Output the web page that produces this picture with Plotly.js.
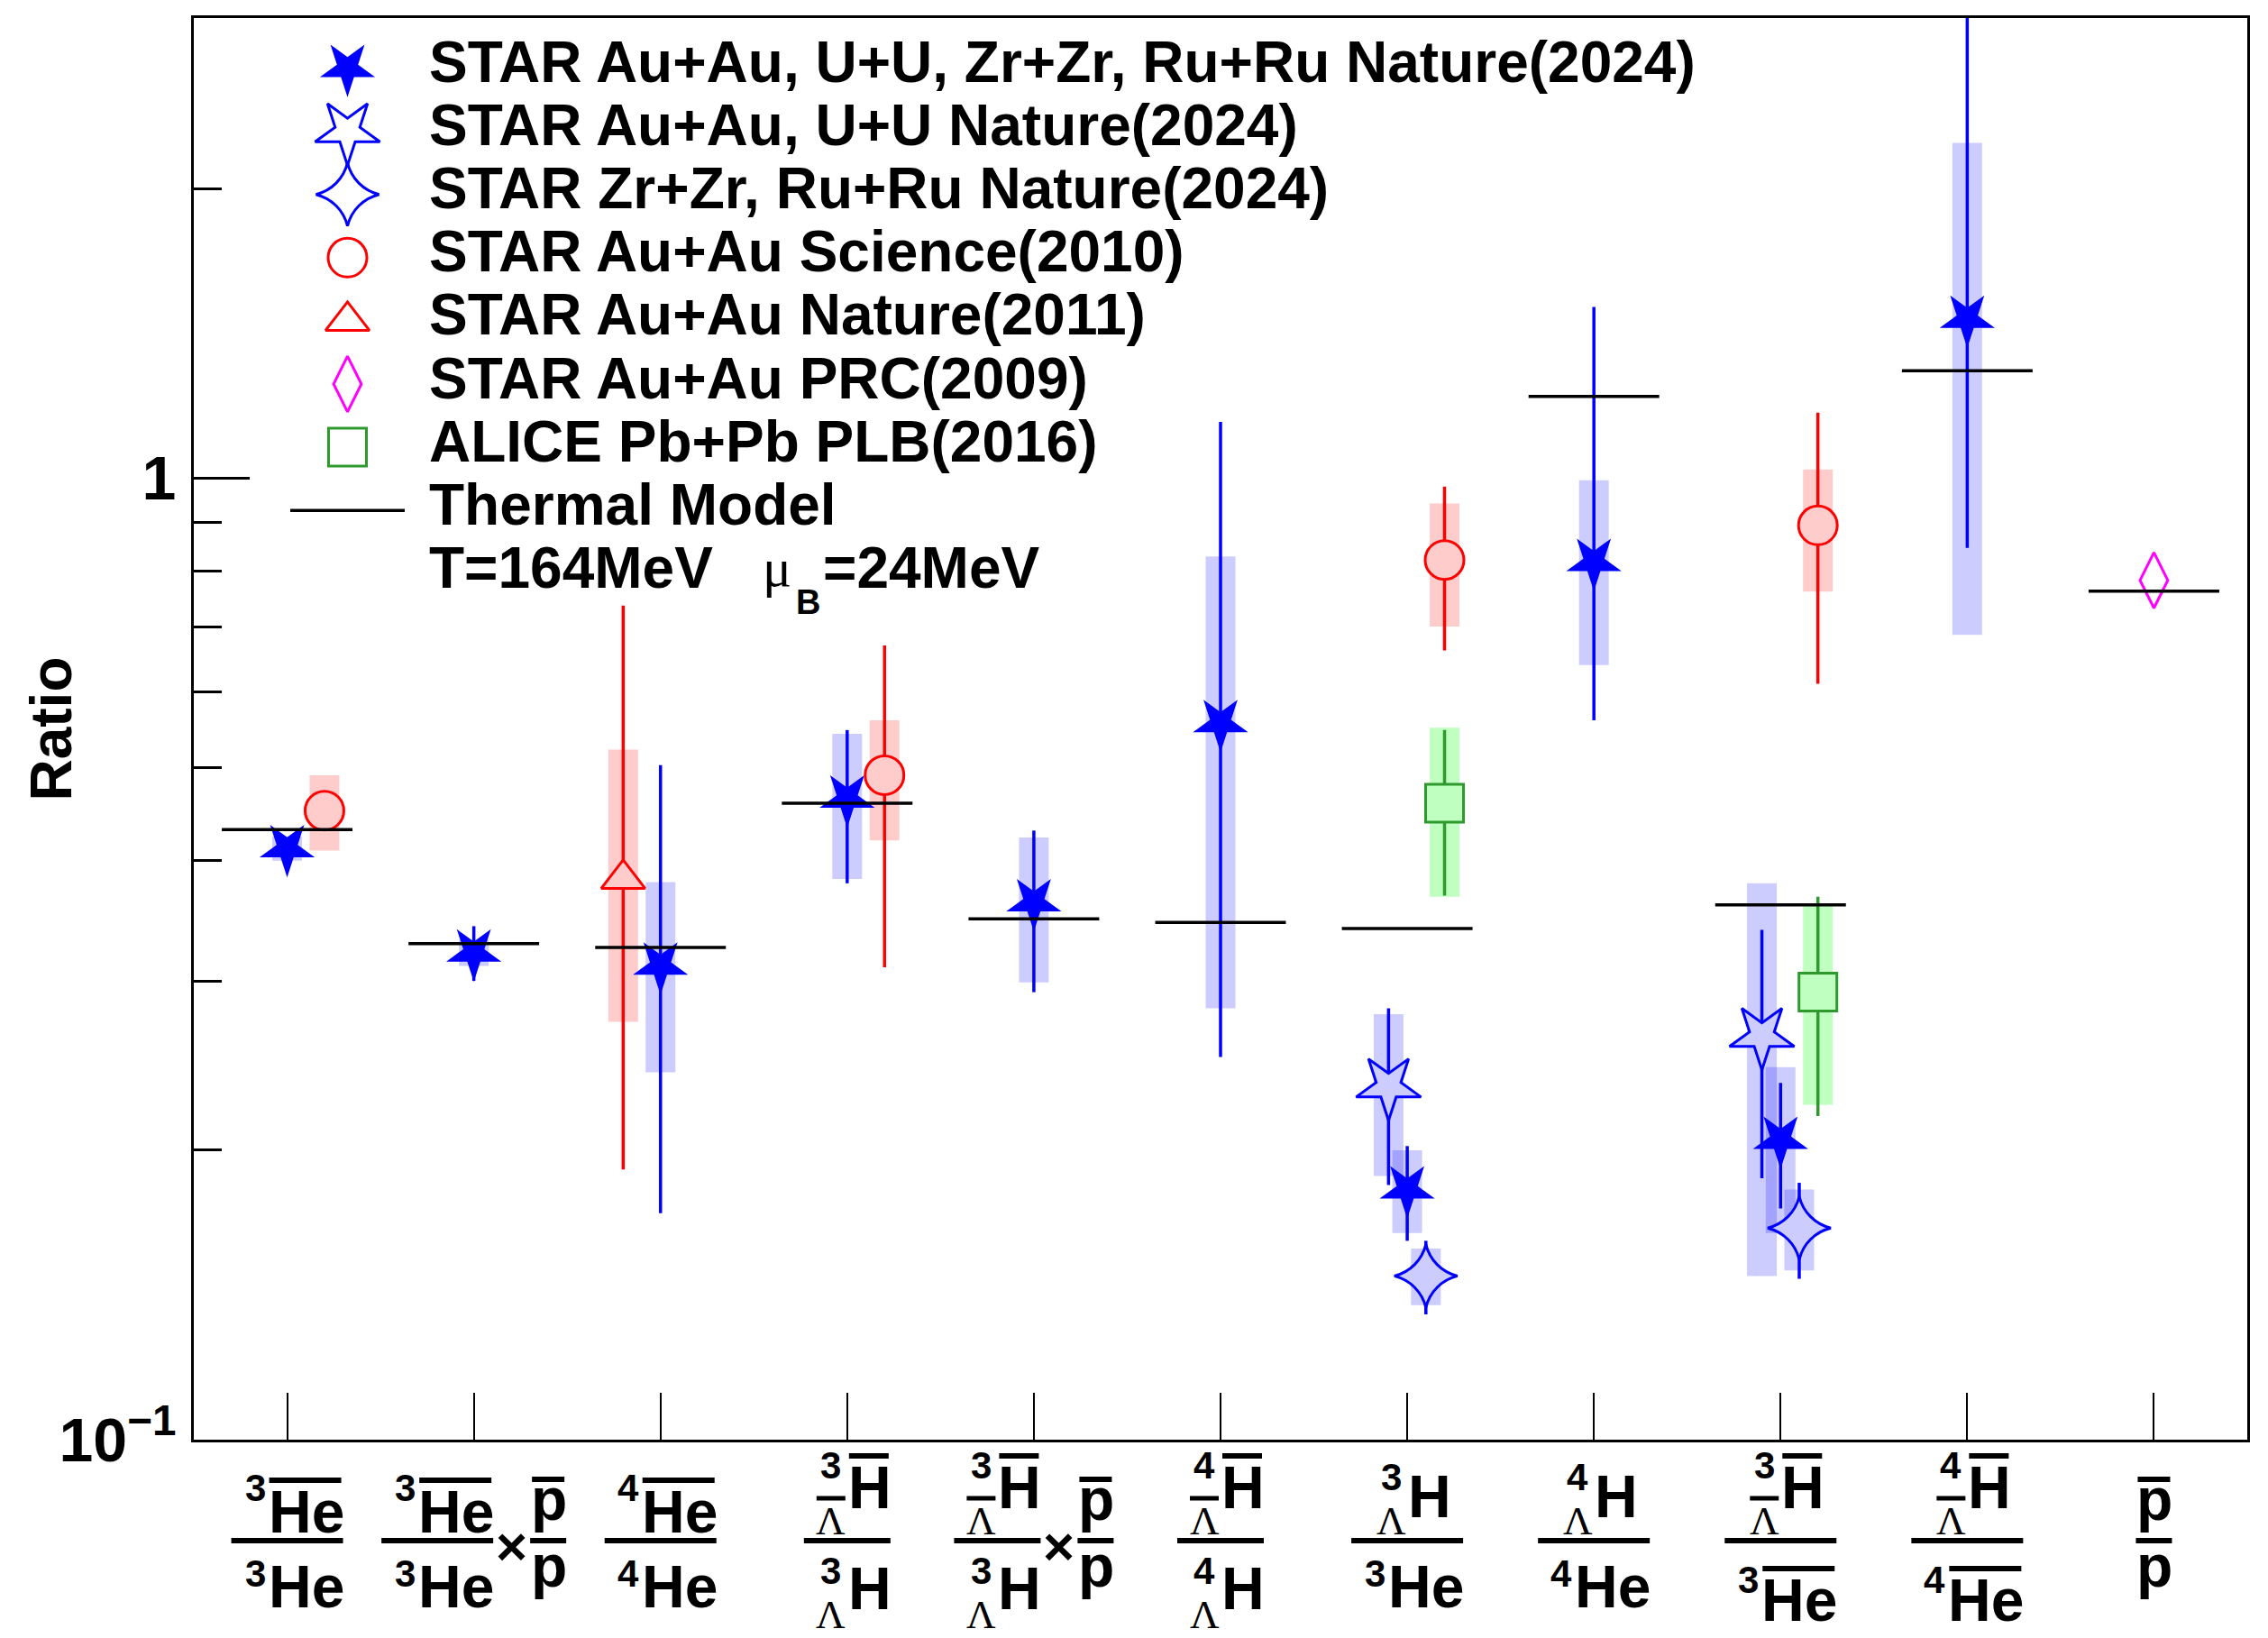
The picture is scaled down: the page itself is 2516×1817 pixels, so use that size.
<!DOCTYPE html>
<html>
<head>
<meta charset="utf-8">
<script src="https://cdn.plot.ly/plotly-3.0.1.min.js"></script>
<style>html,body{margin:0;padding:0;background:#fff}</style>
</head>
<body>
<div id="chart" style="width:2516px;height:1817px"></div>
<script>
// ---- data ----
// thermal model, T=164MeV muB=24MeV, one value per ratio
var thermal = [0.431, 0.328, 0.325, 0.459, 0.348, 0.345, 0.340, 1.216, 0.360, 1.293, 0.763];

// STAR Au+Au, U+U, Zr+Zr, Ru+Ru Nature(2024)
var starAllX      = [1, 2, 3, 4, 5, 6, 7, 8, 9, 10];
var starAllY      = [0.412, 0.321, 0.311, 0.464, 0.362, 0.556, 0.182, 0.818, 0.205, 1.464];
var starAllStatUp = [0.008, 0.021, 0.192, 0.083, 0.068, 0.588, 0.020, 0.689, 0.030, 2.0];
var starAllStatDn = [0.008, 0.021, 0.139, 0.085, 0.070, 0.306, 0.021, 0.258, 0.031, 0.618];
var starAllSysUp  = [0.012, 0.010, 0.069, 0.078, 0.061, 0.273, 0.018, 0.177, 0.039, 0.768];
var starAllSysDn  = [0.012, 0.010, 0.070, 0.081, 0.063, 0.275, 0.018, 0.179, 0.041, 0.777];

// STAR Au+Au, U+U Nature(2024)
var starAuUX      = [7, 9];
var starAuUY      = [0.233, 0.263];
var starAuUStatUp = [0.048, 0.076];
var starAuUStatDn = [0.049, 0.076];
var starAuUSysUp  = [0.044, 0.116];
var starAuUSysDn  = [0.045, 0.115];

// STAR Zr+Zr, Ru+Ru Nature(2024)
var starZrX      = [7, 9];
var starZrY      = [0.148, 0.166];
var starZrStatUp = [0.013, 0.019];
var starZrStatDn = [0.013, 0.019];
var starZrSysUp  = [0.010, 0.016];
var starZrSysDn  = [0.010, 0.016];

// STAR Au+Au Science(2010)
var sciX      = [1, 4, 7, 9];
var sciY      = [0.451, 0.491, 0.822, 0.893];
var sciStatUp = [0.010, 0.179, 0.158, 0.277];
var sciStatDn = [0.010, 0.181, 0.160, 0.282];
var sciSysUp  = [0.040, 0.069, 0.119, 0.128];
var sciSysDn  = [0.041, 0.071, 0.121, 0.131];

// STAR Au+Au Nature(2011)
var natX      = [3];
var natY      = [0.383];
var natStatUp = [0.354];
var natStatDn = [0.192];
var natSysUp  = [0.139];
var natSysDn  = [0.111];

// STAR Au+Au PRC(2009)
var prcX      = [11];
var prcY      = [0.783];
var prcStatUp = [0.005];
var prcStatDn = [0.005];

// ALICE Pb+Pb PLB(2016)
var aliceX      = [7, 9];
var aliceY      = [0.459, 0.292];
var aliceStatUp = [0.088, 0.075];
var aliceStatDn = [0.091, 0.075];
var aliceSysUp  = [0.091, 0.068];
var aliceSysDn  = [0.092, 0.069];

// x labels: [mass number, symbol, hypernucleus, anti]
var labelTop = [[3,'He',0,1],[3,'He',0,1],[4,'He',0,1],[3,'H',1,1],[3,'H',1,1],[4,'H',1,1],
                [3,'H',1,0],[4,'H',1,0],[3,'H',1,1],[4,'H',1,1],[0,'p',0,1]];
var labelBottom = [[3,'He',0,0],[3,'He',0,0],[4,'He',0,0],[3,'H',1,0],[3,'H',1,0],[4,'H',1,0],
                   [3,'He',0,0],[4,'He',0,0],[3,'He',0,1],[4,'He',0,1],[0,'p',0,0]];
var labelTimesPbar = [0, 1, 0, 0, 1, 0, 0, 0, 0, 0, 0];
var pbarTop = [0,'p',0,1], pBottom = [0,'p',0,0];

var categories = labelTop.map(function (d, i) { return i + 1; });

// ---- page geometry ----
var PLOT_L = 215, PLOT_R = 2493, PLOT_T = 20, PLOT_B = 1597;
var PLOT_W = PLOT_R - PLOT_L, PLOT_H = PLOT_B - PLOT_T;
var SANS = 'Liberation Sans', SERIF = 'Liberation Serif';
var BLUE = '#0000ff', RED = '#ff0000', MAGENTA = '#ff00ff', GREEN = '#2e9a2e';

var series = [
  {name: 'STAR Au+Au, U+U, Zr+Zr, Ru+Ru Nature(2024)', x: starAllX, y: starAllY,
   statUp: starAllStatUp, statDn: starAllStatDn, sysUp: starAllSysUp, sysDn: starAllSysDn,
   shift: 0, symbol: 'star', legSymbol: 'star', angle: 180, size: 46, fill: BLUE, edge: BLUE, edgeW: 0,
   err: BLUE, band: 'rgba(0,0,255,0.2)'},
  {name: 'STAR Au+Au, U+U Nature(2024)', x: starAuUX, y: starAuUY,
   statUp: starAuUStatUp, statDn: starAuUStatDn, sysUp: starAuUSysUp, sysDn: starAuUSysDn,
   shift: -0.1, symbol: 'star', legSymbol: 'star-open', angle: 180, size: 54, fill: '#ccccff', edge: BLUE, edgeW: 3,
   err: BLUE, band: 'rgba(0,0,255,0.2)'},
  {name: 'STAR Zr+Zr, Ru+Ru Nature(2024)', x: starZrX, y: starZrY,
   statUp: starZrStatUp, statDn: starZrStatDn, sysUp: starZrSysUp, sysDn: starZrSysDn,
   shift: 0.1, symbol: 'star-diamond', legSymbol: 'star-diamond-open', angle: 0, size: 50, fill: '#ccccff', edge: BLUE, edgeW: 3,
   err: BLUE, band: 'rgba(0,0,255,0.2)'},
  {name: 'STAR Au+Au Science(2010)', x: sciX, y: sciY,
   statUp: sciStatUp, statDn: sciStatDn, sysUp: sciSysUp, sysDn: sciSysDn,
   shift: 0.2, symbol: 'circle', legSymbol: 'circle-open', angle: 0, size: 43, fill: '#ffcccc', edge: RED, edgeW: 3,
   err: RED, band: 'rgba(255,0,0,0.2)'},
  {name: 'STAR Au+Au Nature(2011)', x: natX, y: natY,
   statUp: natStatUp, statDn: natStatDn, sysUp: natSysUp, sysDn: natSysDn,
   shift: -0.2, symbol: 'triangle-up', legSymbol: 'triangle-up-open', angle: 0, size: 42, fill: '#ffcccc', edge: RED, edgeW: 3,
   err: RED, band: 'rgba(255,0,0,0.2)'},
  {name: 'STAR Au+Au PRC(2009)', x: prcX, y: prcY,
   statUp: prcStatUp, statDn: prcStatDn,
   shift: 0, symbol: 'diamond-tall', legSymbol: 'diamond-tall-open', angle: 0, size: 44, fill: '#ffffff', edge: MAGENTA, edgeW: 3,
   err: MAGENTA},
  {name: 'ALICE Pb+Pb PLB(2016)', x: aliceX, y: aliceY,
   statUp: aliceStatUp, statDn: aliceStatDn, sysUp: aliceSysUp, sysDn: aliceSysDn,
   shift: 0.2, symbol: 'square', legSymbol: 'square-open', angle: 0, size: 42, fill: '#bfffbf', edge: GREEN, edgeW: 3,
   err: GREEN, band: 'rgba(0,255,0,0.25)'}
];

function shifted(s) { return s.x.map(function (v) { return v + s.shift; }); }

var traces = [];

// systematic boxes (thick error bars)
series.forEach(function (s) {
  if (!s.sysUp) return;
  traces.push({
    type: 'scatter', mode: 'markers', x: shifted(s), y: s.y, hoverinfo: 'skip', showlegend: false,
    marker: {size: 1, opacity: 0},
    error_y: {type: 'data', symmetric: false, array: s.sysUp, arrayminus: s.sysDn,
              color: s.band, thickness: 33, width: 0}
  });
});

// points with statistical errors
series.forEach(function (s) {
  traces.push({
    type: 'scatter', mode: 'markers', name: s.name, x: shifted(s), y: s.y, showlegend: false,
    marker: {symbol: s.symbol, angle: s.angle, size: s.size, color: s.fill,
             line: {color: s.edge, width: s.edgeW}},
    error_y: {type: 'data', symmetric: false, array: s.statUp, arrayminus: s.statDn,
              color: s.err, thickness: 3.5, width: 0}
  });
});

// thermal model
traces.push({
  type: 'scatter', mode: 'markers', name: 'Thermal Model', x: categories, y: thermal, showlegend: false,
  marker: {size: 1, color: '#000'},
  error_x: {type: 'constant', value: 0.35, color: '#000', thickness: 3.5, width: 0}
});

// ---- legend, drawn on an overlay pair of axes in plot fractions ----
var annotations = [], shapes = [];
var LEG_MARK_X = (385.5 - PLOT_L) / PLOT_W;
var LEG_TEXT_X = (475 - PLOT_L) / PLOT_W;
function legRow(i) { return (PLOT_B - (75.5 + 70.1 * i)) / PLOT_H; }
function legText(i) { return (PLOT_B - (69 + 70.1 * i)) / PLOT_H; }
var LEG_FONT = {family: SANS, size: 64, weight: 'bold', color: '#000'};

series.forEach(function (s, i) {
  traces.push({
    type: 'scatter', mode: 'markers', xaxis: 'x2', yaxis: 'y2', x: [LEG_MARK_X], y: [legRow(i)],
    hoverinfo: 'skip', showlegend: false,
    marker: {symbol: s.legSymbol, angle: s.angle, size: s.size, color: s.edge,
             line: {color: s.edge, width: s.edgeW}}
  });
  annotations.push({xref: 'paper', yref: 'paper', x: LEG_TEXT_X, y: legText(i), xanchor: 'left', yanchor: 'middle',
    text: s.name, showarrow: false, borderpad: 0, font: LEG_FONT});
});
traces.push({
  type: 'scatter', mode: 'markers', xaxis: 'x2', yaxis: 'y2', x: [LEG_MARK_X], y: [legRow(7)],
  hoverinfo: 'skip', showlegend: false, marker: {size: 1, color: '#000'},
  error_x: {type: 'constant', value: 63.5 / PLOT_W, color: '#000', thickness: 3.5, width: 0}
});
annotations.push({xref: 'paper', yref: 'paper', x: LEG_TEXT_X, y: legText(7), xanchor: 'left', yanchor: 'middle',
  text: 'Thermal Model', showarrow: false, borderpad: 0, font: LEG_FONT});
annotations.push({xref: 'paper', yref: 'paper', x: LEG_TEXT_X, y: legText(8), xanchor: 'left', yanchor: 'middle',
  text: 'T=164MeV', showarrow: false, borderpad: 0, font: LEG_FONT});
annotations.push({xref: 'paper', yref: 'paper', x: (845 - PLOT_L) / PLOT_W, y: legText(8), xanchor: 'left', yanchor: 'middle',
  text: 'μ', showarrow: false, borderpad: 0, font: {family: SERIF, size: 60, weight: 'normal', color: '#000'}});
annotations.push({xref: 'paper', yref: 'paper', x: (882 - PLOT_L) / PLOT_W, y: (PLOT_B - 668) / PLOT_H, xanchor: 'left', yanchor: 'middle',
  text: 'B', showarrow: false, borderpad: 0, font: {family: SANS, size: 38, weight: 'bold', color: '#000'}});
annotations.push({xref: 'paper', yref: 'paper', x: (912 - PLOT_L) / PLOT_W, y: legText(8), xanchor: 'left', yanchor: 'middle',
  text: '=24MeV', showarrow: false, borderpad: 0, font: LEG_FONT});

// y title
annotations.push({xref: 'paper', yref: 'paper', x: 0, xshift: -159, y: 0.5, xanchor: 'center', yanchor: 'middle',
  textangle: -90, text: 'Ratio', showarrow: false, borderpad: 0, font: LEG_FONT});

// ---- x labels: fractions of nuclei ----
var SYM_SIZE = 66, PRE_SIZE = 42, LAM_SIZE = 45;
var SYM_W = {He: 84, H: 48, p: 40};
var PRE_W = 24, LAM_W = 32;

function txt(cat, dx, baseline, text, size, anchor, family, weight, asc) {
  annotations.push({
    xref: 'x', x: cat, xshift: dx, xanchor: anchor,
    yref: 'paper', y: 0, yshift: PLOT_B - (baseline - asc * size), yanchor: 'middle',
    text: text, showarrow: false, borderpad: 0,
    font: {family: family, size: size, weight: weight, color: '#000'}
  });
}
function bar(cat, dx0, dx1, yPix, w) {
  shapes.push({type: 'line', xref: 'x', xsizemode: 'pixel', xanchor: cat, x0: dx0, x1: dx1,
    yref: 'paper', ysizemode: 'pixel', yanchor: 0, y0: PLOT_B - yPix, y1: PLOT_B - yPix,
    line: {color: '#000', width: w}});
}
function nucleusWidth(n) {
  var pre = n[2] ? LAM_W : (n[0] ? PRE_W : 0);
  return pre + (pre ? 2 : 0) + SYM_W[n[1]];
}
function vpos(n, top) {
  var hyper = n[2], anti = n[3];
  if (top) {
    if (n[1] === 'p') return {base: 1686, over: 1641};
    if (hyper) return anti ? {base: 1673, pre: 1640, lam: 1702, lamBar: 1662, over: 1615}
                           : {base: 1683, pre: 1653, lam: 1702};
    return {base: 1700, pre: anti ? 1665 : 1683, over: 1642};
  }
  if (n[1] === 'p') return {base: 1760};
  if (hyper) return {base: 1785, pre: 1757, lam: 1806};
  return anti ? {base: 1798, pre: 1767, over: 1740} : {base: 1783, pre: 1760};
}
function nucleus(cat, cx, n, top) {
  var w = nucleusWidth(n), sw = SYM_W[n[1]];
  var symLeft = cx + w / 2 - sw;
  var v = vpos(n, top);
  txt(cat, symLeft, v.base, n[1], SYM_SIZE, 'left', SANS, 'bold', 0.3465);
  if (n[2]) {
    var colC = symLeft - 2 - LAM_W / 2;
    txt(cat, colC, v.lam, 'Λ', LAM_SIZE, 'center', SERIF, 'normal', 0.3375);
    txt(cat, colC, v.pre, String(n[0]), PRE_SIZE, 'center', SANS, 'bold', 0.3465);
    if (n[3]) bar(cat, colC - LAM_W / 2, colC + LAM_W / 2, v.lamBar, 5);
  } else if (n[0]) {
    txt(cat, symLeft - 1, v.pre, String(n[0]), PRE_SIZE, 'right', SANS, 'bold', 0.3465);
  }
  if (n[3]) bar(cat, symLeft + 2, symLeft + sw - 2, v.over, 6);
}
function fracW(nTop, nBot) {
  var m = Math.max(nucleusWidth(nTop), nucleusWidth(nBot));
  return m > 50 ? m + 14 : m;
}
function fraction(cat, cx, nTop, nBot) {
  var m = Math.max(nucleusWidth(nTop), nucleusWidth(nBot));
  var w = fracW(nTop, nBot);
  var c = cx + (w - m) / 2;
  bar(cat, cx - w / 2, cx + w / 2, 1709, 6);
  nucleus(cat, c, nTop, true);
  nucleus(cat, c, nBot, false);
}

categories.forEach(function (cat, i) {
  if (!labelTimesPbar[i]) {
    fraction(cat, 0, labelTop[i], labelBottom[i]);
    return;
  }
  var w1 = fracW(labelTop[i], labelBottom[i]);
  var w2 = fracW(pbarTop, pBottom);
  var total = w1 + 3 + 35 + 3 + w2;
  fraction(cat, -total / 2 + w1 / 2, labelTop[i], labelBottom[i]);
  annotations.push({xref: 'x', x: cat, xshift: -total / 2 + w1 + 3 + 17.5, xanchor: 'center',
    yref: 'paper', y: 0, yshift: PLOT_B - 1715, yanchor: 'middle', text: '×', showarrow: false,
    borderpad: 0, font: {family: SANS, size: 60, weight: 'bold', color: '#000'}});
  fraction(cat, total / 2 - w2 / 2, pbarTop, pBottom);
});

var layout = {
  width: 2516, height: 1817,
  margin: {l: PLOT_L, r: 2516 - PLOT_R, t: PLOT_T, b: 1817 - PLOT_B, pad: 0},
  paper_bgcolor: '#fff', plot_bgcolor: '#fff',
  font: {family: SANS, weight: 'bold', color: '#000'},
  showlegend: false, hovermode: false,
  xaxis: {range: [0.5, 11.5], tickmode: 'array', tickvals: categories, showticklabels: false,
          ticks: 'inside', ticklen: 52, tickwidth: 2, tickcolor: '#000',
          showline: true, linewidth: 3, linecolor: '#000', mirror: true,
          showgrid: false, zeroline: false},
  yaxis: {type: 'log', range: [-1, 0.4785], tickmode: 'array', tickvals: [0.1, 1],
          ticktext: ['10<sup>−1</sup>', '1'], ticks: 'inside', ticklen: 62, tickwidth: 3, tickcolor: '#000',
          ticklabelstandoff: 3,
          tickfont: {family: SANS, size: 68, weight: 'bold', color: '#000'},
          minor: {tickmode: 'array', tickvals: [0.2, 0.3, 0.4, 0.5, 0.6, 0.7, 0.8, 0.9, 2],
                  ticks: 'inside', ticklen: 31, tickwidth: 3, tickcolor: '#000', showgrid: false},
          showline: true, linewidth: 3, linecolor: '#000', mirror: true,
          showgrid: false, zeroline: false},
  xaxis2: {overlaying: 'x', anchor: 'y2', range: [0, 1], visible: false},
  yaxis2: {overlaying: 'y', anchor: 'x2', range: [0, 1], visible: false},
  annotations: annotations,
  shapes: shapes
};

Plotly.newPlot('chart', traces, layout, {displayModeBar: false, staticPlot: true});
</script>
</body>
</html>
